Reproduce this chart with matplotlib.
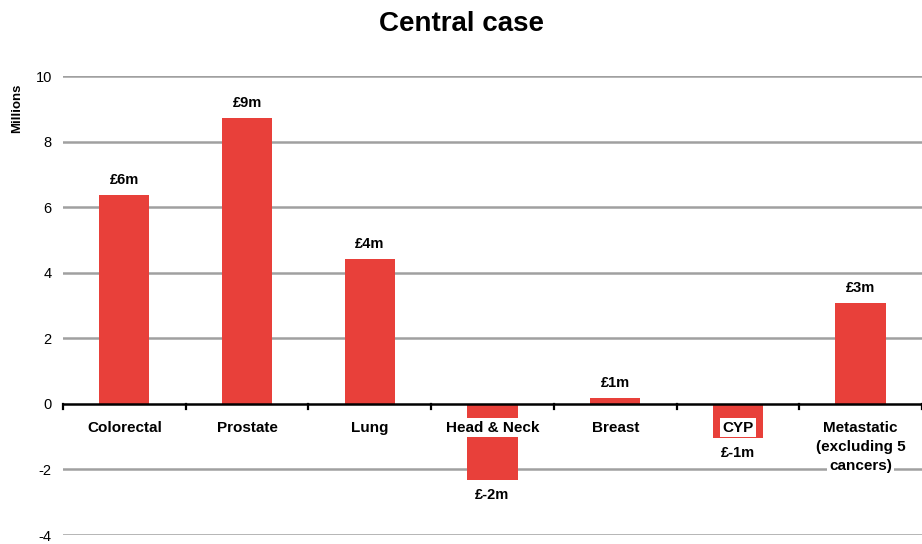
import matplotlib.pyplot as plt
import numpy as np

plt.rcParams['font.family'] = ['Liberation Sans', 'DejaVu Sans']

categories = ["Colorectal", "Prostate", "Lung", "Head & Neck", "Breast", "CYP",
              "Metastatic\n(excluding 5\ncancers)"]
values = [6.36, 8.72, 4.42, -2.32, 0.17, -1.03, 3.07]
value_labels = ["£6m", "£9m", "£4m", "£-2m", "£1m", "£-1m", "£3m"]
yticks = [-4, -2, 0, 2, 4, 6, 8, 10]

fig = plt.figure(figsize=(9.22, 5.44), dpi=100)
ax = fig.add_axes([0.0683, 0.0165, 0.9317, 0.8435])

x = np.arange(len(categories))
ax.bar(x, values, width=0.41, color='#E8403A', zorder=3)

ax.set_xlim(-0.5, len(categories) - 0.5)
ax.set_ylim(-4, 10)
ax.set_yticks(yticks)
ax.set_yticklabels([str(t) for t in yticks], fontsize=10.5)
ax.tick_params(axis='y', length=0, pad=8)
for t in yticks:
    if t != 0:
        ax.axhline(t, color='#A0A0A0', lw=1.8, zorder=1)

for s in ['top', 'right', 'left', 'bottom']:
    ax.spines[s].set_visible(False)
ax.axhline(0, color='black', lw=1.8, zorder=4)
ax.set_xticks([])
for b in np.arange(len(categories) + 1) - 0.5:
    ax.plot([b, b], [0, -0.15], color='black', lw=1.6, zorder=4, clip_on=False)

# category labels, one white box per line
for xi, name in zip(x, categories):
    for k, line in enumerate(name.split("\n")):
        ax.annotate(line, (xi, 0), xytext=(0, -17 - 14 * k), textcoords='offset points',
                    ha='center', va='center', fontsize=11, fontweight='bold', zorder=5,
                    bbox=dict(facecolor='white', edgecolor='none', pad=1.5))

for xi, v, lab in zip(x, values, value_labels):
    if v >= 0:
        ax.text(xi, v + 0.25, lab, ha='center', va='bottom', fontsize=10.5, fontweight='bold')
    else:
        ax.text(xi, v - 0.25, lab, ha='center', va='top', fontsize=10.5, fontweight='bold')

ax.set_ylabel("Millions", fontsize=9.5, fontweight='bold')
ax.yaxis.set_label_coords(-0.046, 0.93)
fig.suptitle("Central case", fontsize=20, fontweight='bold', y=0.98)

fig.savefig("out.png", dpi=100)
